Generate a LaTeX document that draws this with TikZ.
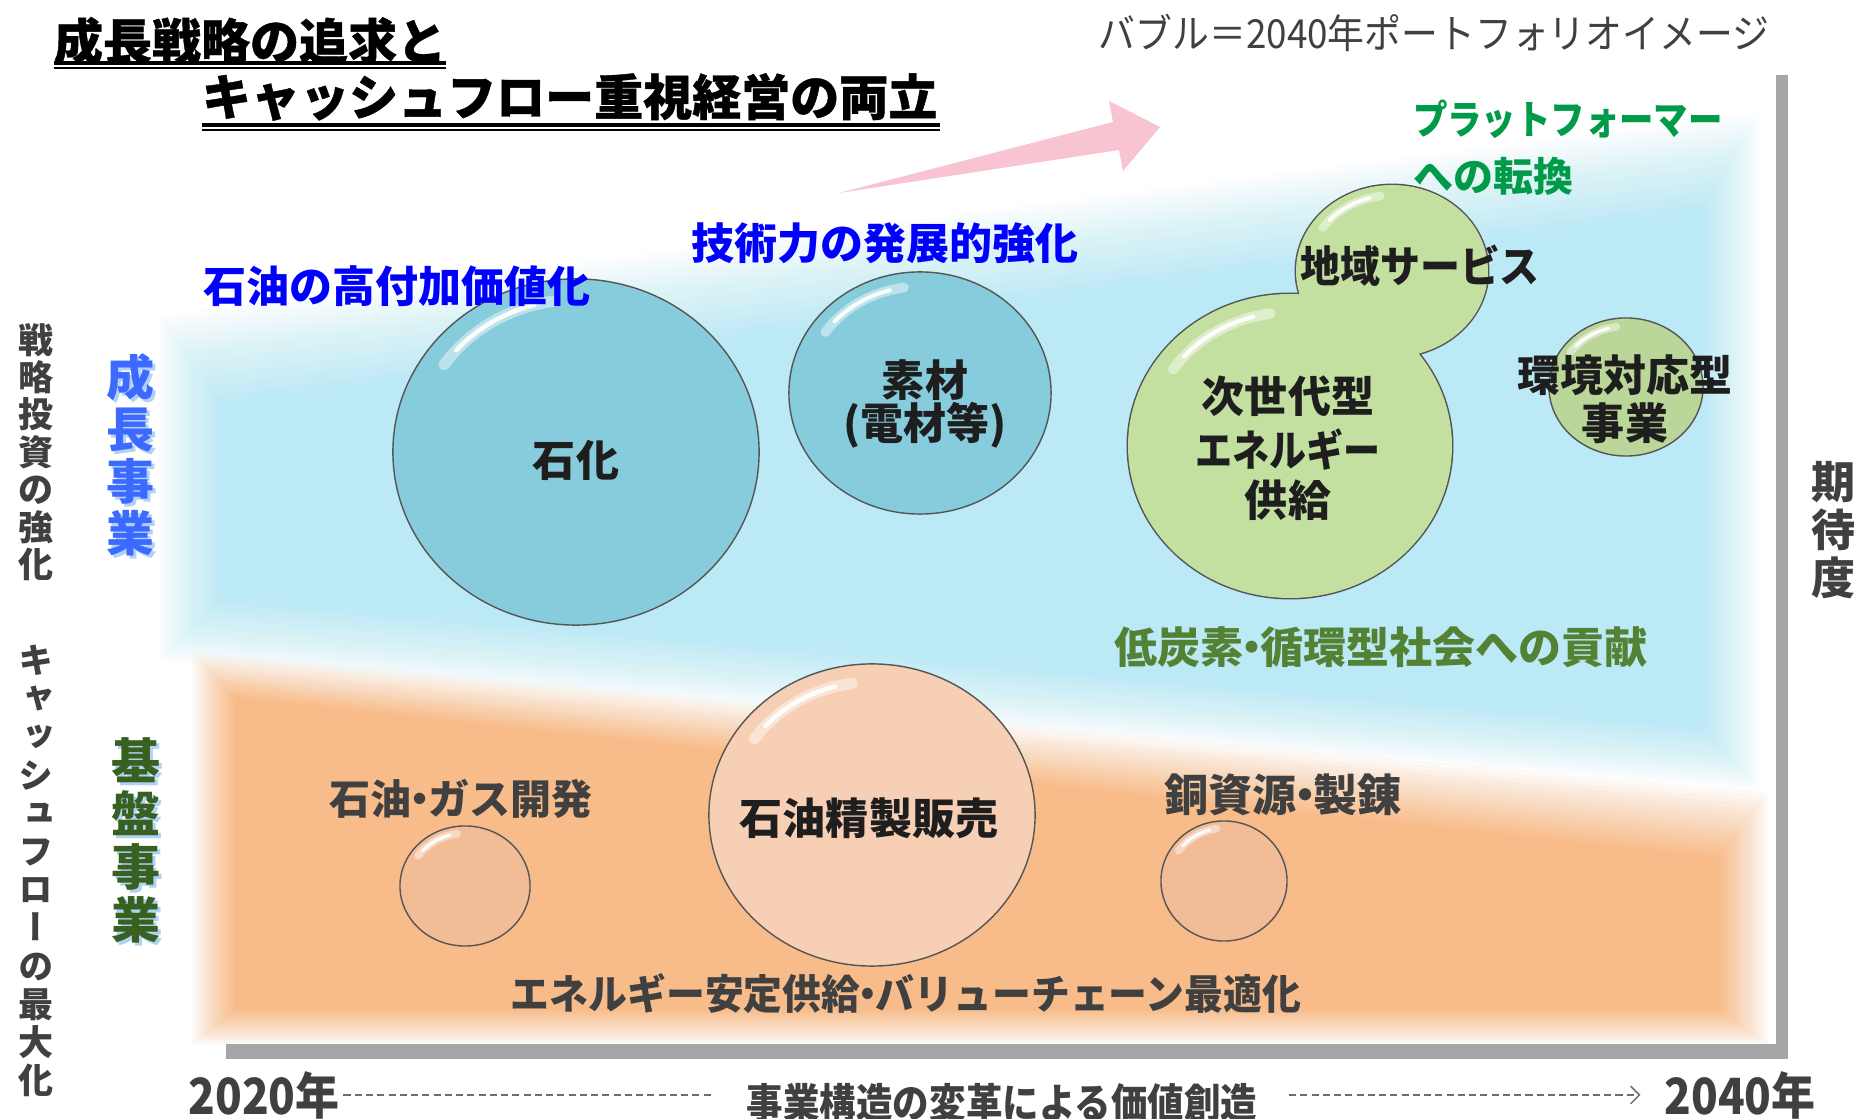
\documentclass[tikz,border=0pt]{standalone}
\usepackage{fontspec}
\usepackage{graphicx}
\setmainfont{Noto Sans CJK JP}
\newfontfamily\jpvert[RawFeature=+vert]{Noto Sans CJK JP}
\newfontfamily\jpheavy[BoldFeatures={FakeBold=0.8}]{Noto Sans CJK JP}
\usetikzlibrary{shapes.geometric,arrows.meta}
\definecolor{skyb}{RGB}{188,233,246}
\definecolor{orng}{RGB}{248,188,138}
\definecolor{pinkar}{RGB}{248,196,210}
\definecolor{bblue}{RGB}{134,204,220}
\definecolor{bgreen}{RGB}{196,224,160}
\definecolor{bgreen2}{RGB}{186,214,152}
\definecolor{bpeach}{RGB}{247,207,180}
\definecolor{bpeach2}{RGB}{241,188,150}
\definecolor{bubline}{RGB}{85,85,85}
\definecolor{txtd}{RGB}{30,30,30}
\definecolor{txtg}{RGB}{64,64,64}
\definecolor{vblue}{RGB}{0,0,255}
\definecolor{pgreen}{RGB}{0,155,72}
\definecolor{cgreen}{RGB}{84,130,53}
\definecolor{sblue}{RGB}{60,105,255}
\definecolor{sgreen}{RGB}{56,96,32}
\definecolor{shadowb}{RGB}{175,210,245}
\definecolor{axgray}{RGB}{166,166,166}
\definecolor{dashg}{RGB}{110,110,110}
\newcommand\nd{\kern-0.3em・\kern-0.3em}
\newcommand\hlgt[5]{%
  \draw[white, opacity=.45, line width=#5, line cap=round] ({#1+0.88*#3*cos(215)},{#2+0.88*#4*sin(215)}) arc[start angle=215,end angle=262,x radius={0.88*#3},y radius={0.88*#4}];
  \draw[white, opacity=.95, line width=0.4*#5, line cap=round] ({#1+0.88*#3*cos(222)},{#2+0.88*#4*sin(222)}) arc[start angle=222,end angle=255,x radius={0.88*#3},y radius={0.88*#4}];
}
\tikzset{
  every node/.style={inner sep=0pt, outer sep=0pt},
  bub/.style={ellipse, draw=bubline, line width=0.4pt, inner sep=0pt},
  lbl/.style={font=\bfseries\fontsize{12.23pt}{14.8pt}\selectfont, text=txtd, align=center},
  glbl/.style={font=\bfseries\fontsize{11.67pt}{14pt}\selectfont, text=txtg, align=center},
  ttl/.style={font=\jpheavy\bfseries\fontsize{13.94pt}{16pt}\selectfont, text=black},
  blu/.style={font=\bfseries\fontsize{12.23pt}{14pt}\selectfont, text=vblue},
  vtxt/.style={font=\bfseries\fontsize{9.96pt}{10.64pt}\selectfont, text=txtg, align=center},
  vtxtc/.style={font=\jpvert\bfseries\fontsize{9.96pt}{10.87pt}\selectfont, text=txtg, align=center},
  vbig/.style={font=\bfseries\fontsize{13.66pt}{14.8pt}\selectfont, align=center},
  axl/.style={font=\bfseries\fontsize{14.2pt}{16pt}\selectfont, text=txtg},
  dashln/.style={draw=dashg, line width=0.45pt, dash pattern=on 2pt off 1.2pt},
}
\begin{document}
\begin{tikzpicture}[x=0.01cm,y=-0.01cm]
\useasboundingbox (0,0) rectangle (1865,1119);
\fill[white] (0,0) rectangle (1865,1119);
% soft blue band (linear ramp: layer k has opacity 1/(N-k))
\foreach \k in {0,...,19}{
  \pgfmathsetmacro\t{\k/19}
  \pgfmathsetmacro\op{1/(20-\k)}
  \fill[skyb, opacity=\op] ({158+65*\t},{315+90*\t}) -- ({1760-60*\t},{112+100*\t}) -- ({1760-60*\t},{790-65*\t}) -- ({158+65*\t},{662-65*\t}) -- cycle;
}
% soft orange band
\foreach \k in {0,...,15}{
  \pgfmathsetmacro\t{\k/15}
  \pgfmathsetmacro\op{1/(16-\k)}
  \fill[orng, opacity=\op] ({192+42*\t},{652+45*\t}) -- ({1768-48*\t},{792+65*\t}) -- ({1768-48*\t},{1045-35*\t}) -- ({192+42*\t},{1045-35*\t}) -- cycle;
}
% pink arrow
\fill[pinkar] (839,193) -- (1113,122) -- (1109,101) -- (1160,127) -- (1123,171) -- (1119,150) -- cycle;
% axes
\fill[axgray] (1776,75) rectangle (1788,1059);
\fill[axgray] (226,1044) rectangle (1788,1059);

% title
\node[ttl, anchor=west] (title1) at (54,41) {成長戦略の追求と};
\node[ttl, anchor=west] (title2) at (202,97) {キャッシュフロー重視経営の両立};
\draw[line width=1pt] (54,63) -- (446,63);
\draw[line width=.45pt] (54,68) -- (446,68);
\draw[line width=1pt] (202,125) -- (940,125);
\draw[line width=.45pt] (202,130) -- (940,130);

% caption
\node[font=\fontsize{11.38pt}{13pt}\selectfont, text=txtg] (cap) at (1434,33) {\scalebox{0.92}[1]{バブル＝2040年ポートフォリオイメージ}};

% green headline
\node[anchor=west, font=\bfseries\fontsize{11.38pt}{13pt}\selectfont, text=pgreen] (plat1) at (1413,119) {\scalebox{0.86}[1]{プラットフォーマー}};
\node[anchor=west, font=\bfseries\fontsize{11.38pt}{13pt}\selectfont, text=pgreen] (plat2) at (1413,176) {への転換};

% bubbles: growth
\node[bub, fill=bblue, minimum width=3.66cm, minimum height=3.46cm] (sekika) at (576,452) {};
\hlgt{576}{452}{183}{173}{3.2pt}
\node[bub, fill=bblue, minimum width=2.62cm, minimum height=2.42cm] (sozai) at (920,393) {};
\hlgt{920}{393}{131}{121}{2.8pt}

\node[ellipse, draw=bubline, line width=0.8pt, minimum width=1.92cm, minimum height=1.72cm] (chiiki) at (1392,271) {};
\node[ellipse, draw=bubline, line width=0.8pt, minimum width=3.24cm, minimum height=3.04cm] (jisedai) at (1290,446) {};
\fill[bgreen] (1392,271) ellipse[x radius=96,y radius=86] (1290,446) ellipse[x radius=162,y radius=152];
\hlgt{1392}{271}{96}{86}{2.4pt}
\hlgt{1290}{446}{162}{152}{3pt}

\node[bub, fill=bgreen2, minimum width=1.54cm, minimum height=1.38cm] (kankyo) at (1626,387) {};
\hlgt{1626}{387}{77}{69}{2.2pt}

% bubbles: base
\node[bub, fill=bpeach, minimum width=3.26cm, minimum height=3.02cm] (seisei) at (872,815) {};
\hlgt{872}{815}{163}{151}{3.2pt}
\node[bub, fill=bpeach2, minimum width=1.30cm, minimum height=1.20cm] (gaskaihatsu) at (465,886) {};
\hlgt{465}{886}{65}{60}{2.2pt}
\node[bub, fill=bpeach2, minimum width=1.26cm, minimum height=1.20cm] (dou) at (1224,881) {};
\hlgt{1224}{881}{63}{60}{2.2pt}

% blue headlines (over bubbles)
\node[blu] (koufuka) at (397,286) {石油の高付加価値化};
\node[blu] (gijutsu) at (885,243) {技術力の発展的強化};

% bubble labels
\node[lbl] (sekikaT) at (576,460) {石化};
\node[lbl, font=\bfseries\fontsize{12.23pt}{11.95pt}\selectfont] (sozaiT) at (925,404) {素材\\(電材等)};
\node[lbl] (chiikiT) at (1420,266) {\scalebox{0.93}[1]{地域サービス}};
\node[lbl] (jisedaiT1) at (1288,396) {次世代型};
\node[lbl] (jisedaiT2) at (1288,450) {\scalebox{0.86}[1]{エネルギー}};
\node[lbl] (jisedaiT3) at (1288,500) {供給};
\node[lbl] (kankyoT1) at (1625,375) {環境対応型};
\node[lbl] (kankyoT2) at (1625,423) {事業};
\node[lbl] (seiseiT) at (869,818) {石油精製販売};
\node[glbl] (gasT) at (461,799) {石油\nd ガス開発};
\node[glbl, font=\bfseries\fontsize{12.52pt}{14pt}\selectfont] (douT) at (1283,795) {銅資源\nd 製錬};

% contribution lines
\node[font=\bfseries\fontsize{12.23pt}{14pt}\selectfont, text=cgreen] (teitanso) at (1381,647) {低炭素\nd 循環型社会への貢献};
\node[font=\bfseries\fontsize{11.67pt}{14pt}\selectfont, text=txtg] (antei) at (906,994) {\scalebox{0.946}[1]{エネルギー安定供給\nd バリューチェーン最適化}};

% left vertical labels
\node[vtxt] (senryaku) at (36,452) {戦\\略\\投\\資\\の\\強\\化};
\node[vtxtc] (cash) at (36,871) {キ\\ャ\\ッ\\シ\\ュ\\フ\\ロ\\ー\\の\\最\\大\\化};
\node[vbig, text=shadowb] (seichoS) at (134,458) {成\\長\\事\\業};
\node[vbig, text=sblue] (seicho) at (131,455) {成\\長\\事\\業};
\node[vbig, font=\bfseries\fontsize{13.94pt}{15.08pt}\selectfont, text=shadowb] (kibanS) at (139,843) {基\\盤\\事\\業};
\node[vbig, font=\bfseries\fontsize{13.94pt}{15.08pt}\selectfont, text=sgreen] (kiban) at (136,840) {基\\盤\\事\\業};
\node[vtxt, font=\bfseries\fontsize{12.52pt}{13.66pt}\selectfont] (kitai) at (1834,530) {期\\待\\度};

% bottom axis
\node[axl] (y2020) at (264,1095) {\scalebox{0.88}[1]{2020年}};
\node[axl] (y2040) at (1740,1095) {\scalebox{0.88}[1]{2040年}};
\node[font=\bfseries\fontsize{11.67pt}{14pt}\selectfont, text=txtg] (axtxt) at (1002,1103) {\scalebox{0.89}[1]{事業構造の変革による価値創造}};
\draw[dashln, shorten <=0.04cm, shorten >=0.33cm] (y2020.east) -- (y2020.east -| axtxt.west);
\draw[dashln, -{Straight Barb[length=2.5pt,width=5pt]}, shorten <=0.32cm, shorten >=0.24cm] (axtxt.east |- y2040.west) -- (y2040.west);
\end{tikzpicture}
\end{document}
